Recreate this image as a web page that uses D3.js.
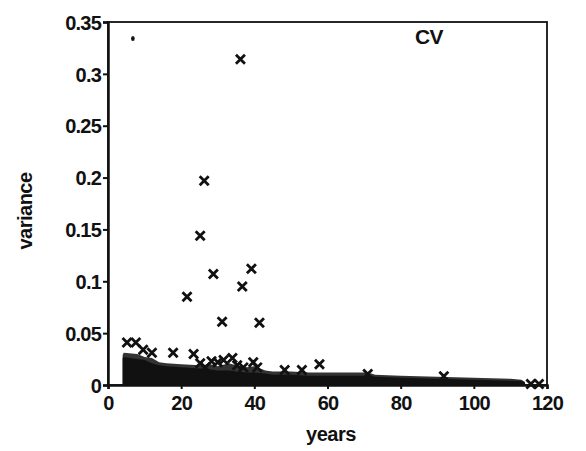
<!DOCTYPE html>
<html><head><meta charset="utf-8">
<script src="https://cdn.jsdelivr.net/npm/d3@7"></script>
<style>body{margin:0;background:#fff}svg{display:block}text{font-family:"Liberation Sans",Arial,sans-serif;font-weight:bold;fill:#111}</style>
</head><body>
<script>
// ---- data ----
const xTicks = [0, 20, 40, 60, 80, 100, 120];
const yTicks = [0, 0.05, 0.1, 0.15, 0.2, 0.25, 0.3, 0.35];
const yTickLabels = ["0", "0.05", "0.1", "0.15", "0.2", "0.25", "0.3", "0.35"];
// scattered crosses: years, variance
const crossYears = [36.2, 26.3, 25.2, 21.6, 28.8, 36.7, 39.2, 31.2, 41.4,
  5.2, 7.6, 9.6, 12.0, 17.8, 23.4, 25.2, 26.6, 28.3, 30.0, 31.6, 34.0, 35.3, 37.0, 39.7, 40.8,
  48.3, 53.0, 57.8, 71.0, 91.8, 115.6, 117.8];
const crossVar = [0.314, 0.197, 0.144, 0.085, 0.107, 0.095, 0.112, 0.061, 0.060,
  0.041, 0.041, 0.034, 0.031, 0.031, 0.030, 0.021, 0.017, 0.023, 0.022, 0.024, 0.026, 0.019, 0.017, 0.022, 0.017,
  0.0145, 0.0145, 0.020, 0.0105, 0.0085, 0.001, 0.001];
// single dot
const dotYears = [6.8];
const dotVar = [0.334];
// dense cloud of overlapping markers: outer (upper) envelope and dark core envelope
const cloudYears = [4, 4.3, 8, 10, 12, 14, 16, 20, 25, 28, 30, 33, 35, 38, 40, 43, 45, 50, 55, 60, 65, 70, 72, 73, 80, 90, 100, 110, 113, 114];
const cloudOuter = [0.029, 0.031, 0.030, 0.027, 0.026, 0.022, 0.021, 0.020, 0.019, 0.020, 0.018, 0.021, 0.019, 0.017, 0.018, 0.014, 0.013, 0.013, 0.012, 0.012, 0.012, 0.012, 0.011, 0.010, 0.009, 0.008, 0.007, 0.006, 0.005, 0.003];
const cloudCore  = [0.026, 0.027, 0.025, 0.024, 0.021, 0.019, 0.018, 0.017, 0.016, 0.015, 0.014, 0.014, 0.013, 0.012, 0.012, 0.011, 0.010, 0.010, 0.009, 0.009, 0.009, 0.009, 0.009, 0.008, 0.007, 0.006, 0.005, 0.004, 0.004, 0.002];

const W = 586, H = 451;
const m = {l: 108, r: 547, t: 22, b: 385};
const svg = d3.select("body").append("svg").attr("width", W).attr("height", H);
const x = d3.scaleLinear().domain([0, 120]).range([m.l, m.r]);
const y = d3.scaleLinear().domain([0, 0.35]).range([m.b, m.t]);

const cloud = cloudYears.map((v, i) => ({x: v, o: cloudOuter[i], c: cloudCore[i]}));
svg.append("path").datum(cloud)
  .attr("d", d3.area().x(d => x(d.x)).y0(y(0)).y1(d => y(d.o)))
  .attr("fill", "#333");
svg.append("path").datum(cloud)
  .attr("d", d3.area().x(d => x(d.x)).y0(y(0)).y1(d => y(d.c)))
  .attr("fill", "#111");

// frame
svg.append("rect").attr("x", m.l).attr("y", m.t).attr("width", m.r - m.l).attr("height", m.b - m.t)
  .attr("fill", "none").attr("stroke", "#111").attr("stroke-width", 1.8);

// axes
const xa = svg.append("g").attr("transform", `translate(0,${m.b})`)
  .call(d3.axisBottom(x).tickValues(xTicks).tickSize(4).tickFormat(d => String(d)));
const ya = svg.append("g").attr("transform", `translate(${m.l},0)`)
  .call(d3.axisLeft(y).tickValues(yTicks).tickSize(5).tickFormat((d, i) => yTickLabels[i]));
[xa, ya].forEach(g => {
  g.select(".domain").attr("stroke", "#111").attr("stroke-width", 2.5);
  g.selectAll(".tick line").attr("stroke", "#111").attr("stroke-width", 2);
  g.selectAll(".tick text").style("font-size", "20px").attr("fill", "#111").style("letter-spacing", "-0.8px");
});
xa.selectAll(".tick text").attr("dy", "0.92em");
ya.selectAll(".tick text").attr("x", -7).attr("dy", "0.36em");

// crosses
const s = 4.5;
const crosses = crossYears.map((v, i) => ({x: v, y: crossVar[i]}));
svg.append("g").selectAll("path").data(crosses).join("path")
  .attr("d", d => `M${x(d.x)-s},${y(d.y)-s}L${x(d.x)+s},${y(d.y)+s}M${x(d.x)-s},${y(d.y)+s}L${x(d.x)+s},${y(d.y)-s}`)
  .attr("stroke", "#111").attr("stroke-width", 2.8).attr("fill", "none");

svg.append("g").selectAll("ellipse").data(dotYears.map((v, i) => ({x: v, y: dotVar[i]}))).join("ellipse")
  .attr("cx", d => x(d.x)).attr("cy", d => y(d.y)).attr("rx", 1.8).attr("ry", 2.5).attr("fill", "#111");

// labels
svg.append("text").attr("x", 429).attr("y", 44).attr("text-anchor", "middle").style("font-size", "21px").style("letter-spacing", "-0.5px").text("CV");
svg.append("text").attr("x", 331).attr("y", 441).attr("text-anchor", "middle").style("font-size", "20px").style("letter-spacing", "-0.5px").text("years");
svg.append("text").attr("transform", "translate(32,211) rotate(-90)").attr("text-anchor", "middle").style("font-size", "20px").style("letter-spacing", "-0.5px").text("variance");
</script>
</body></html>
